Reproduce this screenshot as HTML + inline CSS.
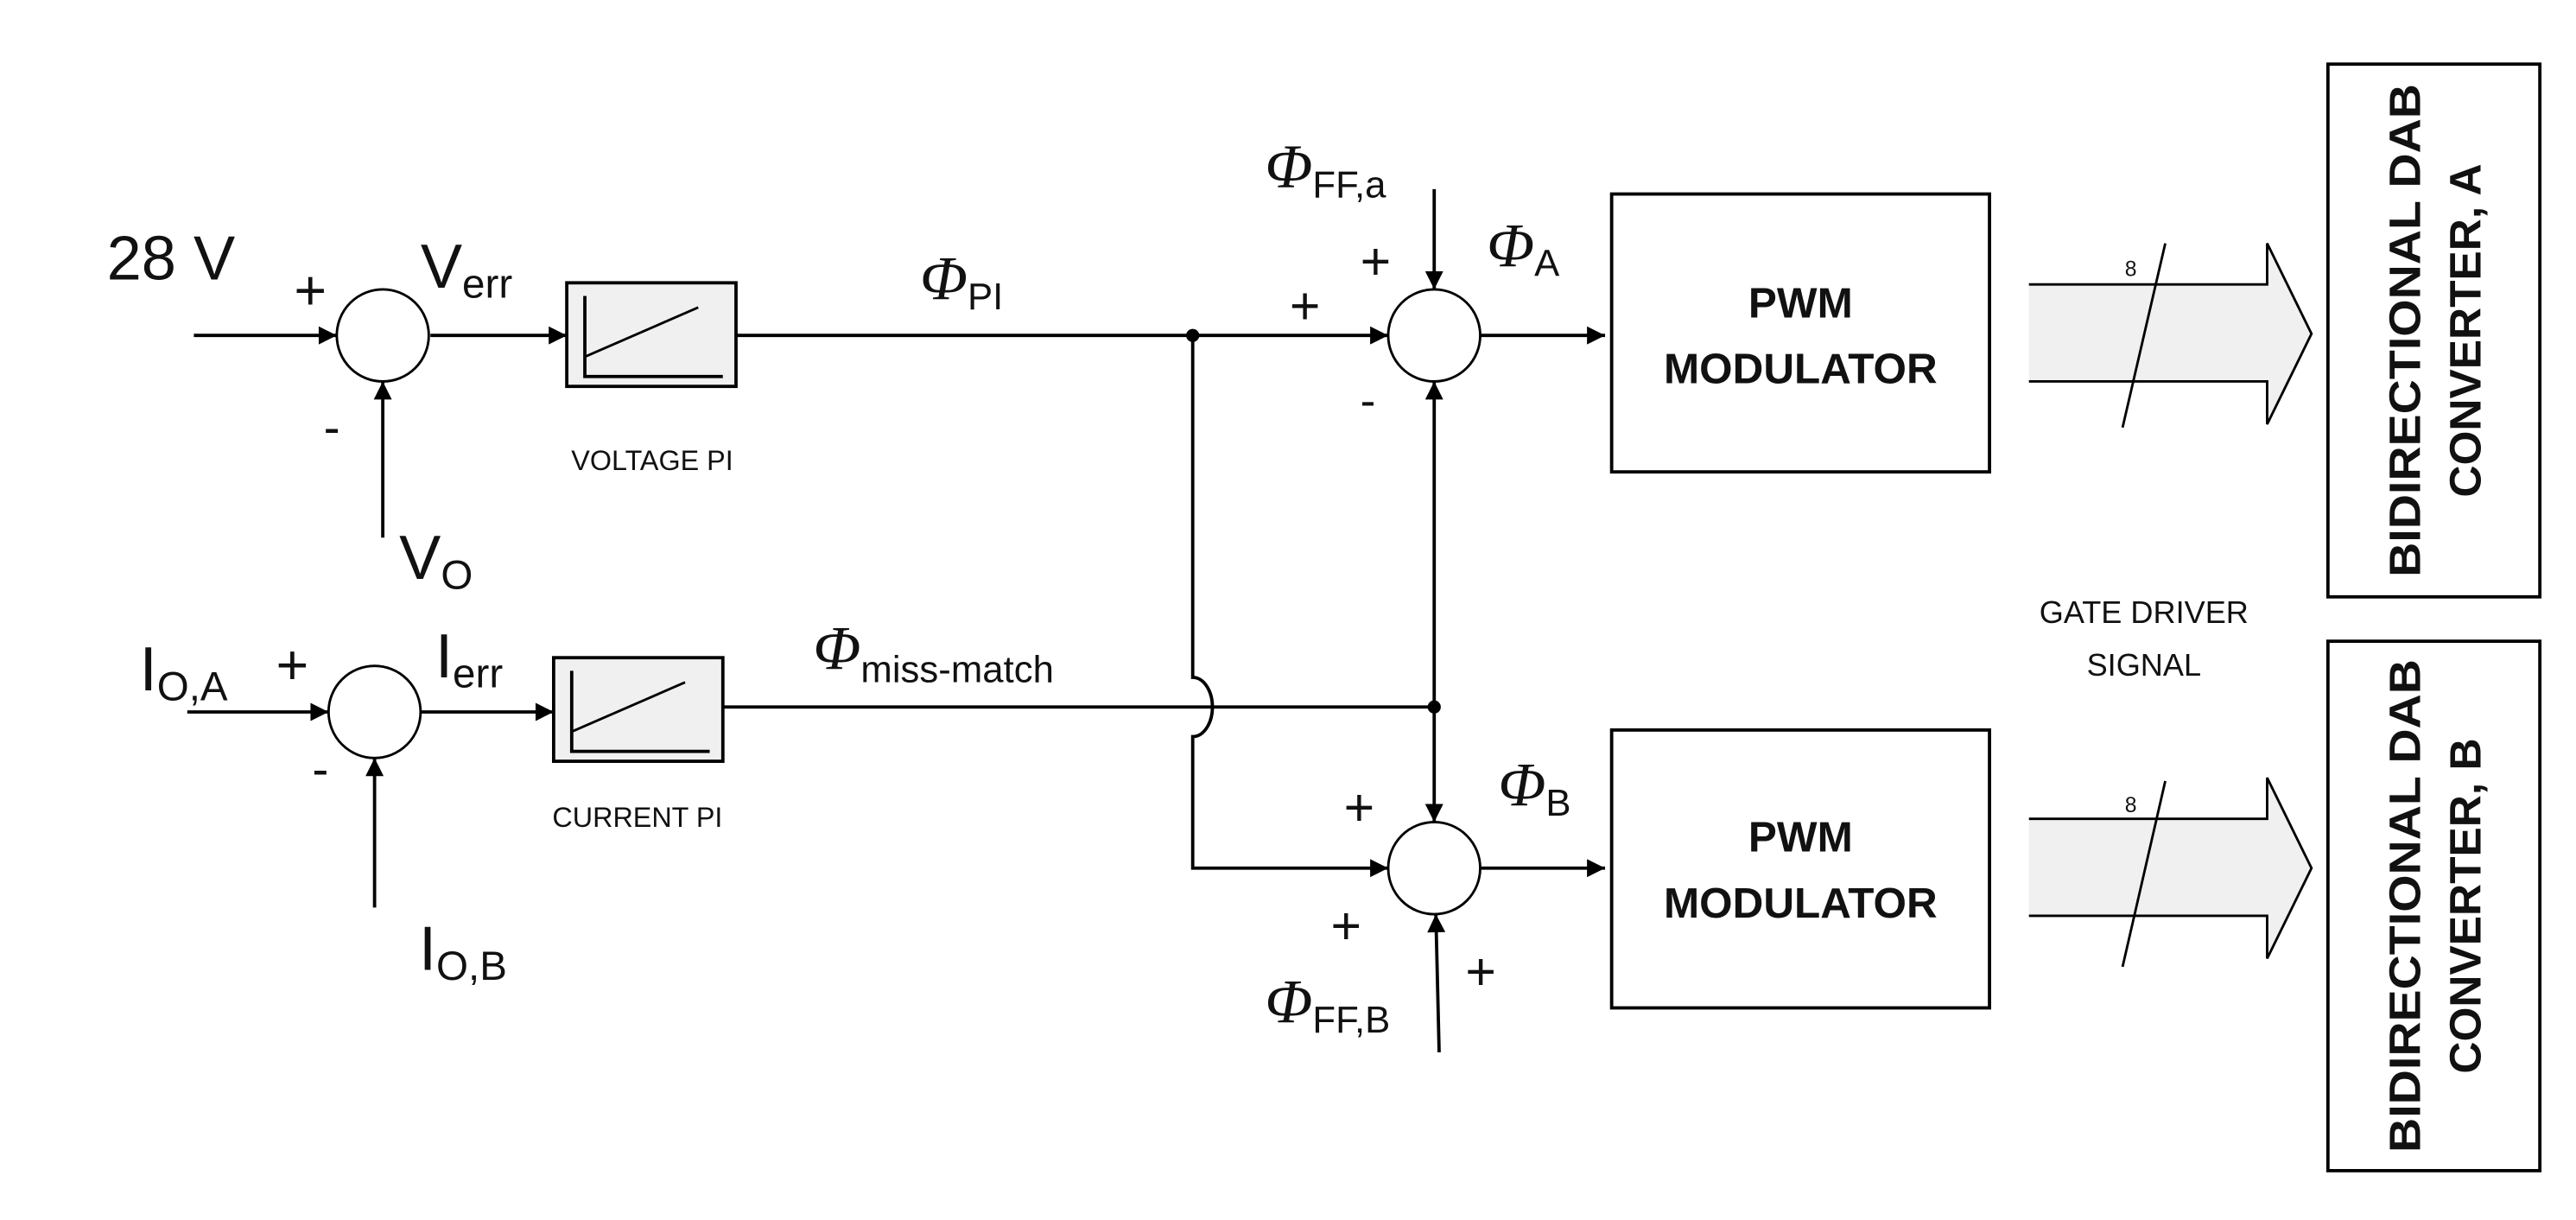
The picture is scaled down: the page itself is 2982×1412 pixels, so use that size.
<!DOCTYPE html>
<html><head><meta charset="utf-8"><style>
html,body{margin:0;padding:0;background:#fff;}
svg{display:block;}
text{font-family:"Liberation Sans",sans-serif;fill:#111;}
.it{font-family:"Liberation Serif",serif;font-style:italic;}
.b{font-weight:bold;}
</style></head><body>
<svg width="2982" height="1412" viewBox="0 0 1568 742" preserveAspectRatio="none" xmlns="http://www.w3.org/2000/svg">
<defs>
<marker id="ar2" viewBox="0 0 10 10" refX="10" refY="5" markerWidth="14" markerHeight="11" markerUnits="userSpaceOnUse" orient="auto">
<path d="M0,0 L10,5 L0,10 z" fill="#000"/></marker>
</defs>
<g stroke="#000" stroke-width="2" fill="none">
<line x1="118" y1="204" x2="205" y2="204" marker-end="url(#ar2)"/>
<circle cx="233" cy="204" r="28" stroke-width="1.5"/>
<line x1="233" y1="327" x2="233" y2="232" marker-end="url(#ar2)"/>
<line x1="262" y1="204" x2="345" y2="204" marker-end="url(#ar2)"/>
<rect x="345" y="172" width="103" height="63" fill="#f0f0f0"/>
<polyline points="356,180 356,229 440,229"/>
<line x1="356" y1="217" x2="425" y2="187" stroke-width="1.5"/>
<line x1="448" y1="204" x2="845" y2="204" marker-end="url(#ar2)"/>
<circle cx="873" cy="204" r="28" stroke-width="1.5"/>
<line x1="873" y1="115" x2="873" y2="176" marker-end="url(#ar2)"/>
<line x1="901" y1="204" x2="977" y2="204" marker-end="url(#ar2)"/>
<rect x="981" y="118" width="230" height="169"/>
<line x1="114" y1="433" x2="200" y2="433" marker-end="url(#ar2)"/>
<circle cx="228" cy="433" r="28" stroke-width="1.5"/>
<line x1="228" y1="552" x2="228" y2="461" marker-end="url(#ar2)"/>
<line x1="256" y1="433" x2="337" y2="433" marker-end="url(#ar2)"/>
<rect x="337" y="400" width="103" height="63" fill="#f0f0f0"/>
<polyline points="348,408 348,457 432,457"/>
<line x1="348" y1="445" x2="417" y2="415" stroke-width="1.5"/>
<line x1="440" y1="430" x2="873" y2="430"/>
<path d="M726,204 L726,412 A12,18 0 0 1 726,448 L726,528 L845,528" marker-end="url(#ar2)"/>
<line x1="873" y1="430" x2="873" y2="232" marker-end="url(#ar2)"/>
<line x1="873" y1="430" x2="873" y2="500" marker-end="url(#ar2)"/>
<circle cx="873" cy="528" r="28" stroke-width="1.5"/>
<line x1="876" y1="640" x2="874" y2="556" marker-end="url(#ar2)"/>
<line x1="901" y1="528" x2="977" y2="528" marker-end="url(#ar2)"/>
<rect x="981" y="444" width="230" height="169"/>
<path d="M1235,173 L1380,173 L1380,148 L1407,203 L1380,258 L1380,232 L1235,232 z" fill="#f0f0f0" stroke="none"/>
<path d="M1235,173 L1380,173 L1380,148 L1407,203 L1380,258 L1380,232 L1235,232" stroke-width="1.5"/>
<line x1="1318" y1="148" x2="1292" y2="260" stroke-width="1.5"/>
<path d="M1235,498 L1380,498 L1380,473 L1407,528 L1380,583 L1380,557 L1235,557 z" fill="#f0f0f0" stroke="none"/>
<path d="M1235,498 L1380,498 L1380,473 L1407,528 L1380,583 L1380,557 L1235,557" stroke-width="1.5"/>
<line x1="1318" y1="475" x2="1292" y2="588" stroke-width="1.5"/>
<rect x="1417" y="39" width="129" height="324"/>
<rect x="1417" y="390" width="129" height="322"/>
</g>
<circle cx="726" cy="204" r="4" fill="#000"/>
<circle cx="873" cy="430" r="4" fill="#000"/>
<text x="65" y="170" font-size="38">28 V</text>
<text x="179" y="188" font-size="34">+</text>
<text x="197" y="270" font-size="30">-</text>
<text x="256" y="175" font-size="38">V<tspan font-size="25" dy="6">err</tspan></text>
<text x="243" y="352" font-size="38">V<tspan font-size="25" dy="6">O</tspan></text>
<text x="397" y="286" font-size="17" text-anchor="middle">VOLTAGE PI</text>
<text x="560" y="182" font-size="38" class="it">Φ<tspan font-style="normal" font-family="Liberation Sans" font-size="23" dy="6">PI</tspan></text>
<text x="785" y="197" font-size="32">+</text>
<text x="828" y="170" font-size="32">+</text>
<text x="828" y="253" font-size="28">-</text>
<text x="770" y="114" font-size="38" class="it">Φ<tspan font-style="normal" font-family="Liberation Sans" font-size="23" dy="6">FF,a</tspan></text>
<text x="905" y="162" font-size="38" class="it">Φ<tspan font-style="normal" font-family="Liberation Sans" font-size="23" dy="6">A</tspan></text>
<text x="1096" y="193" font-size="26" class="b" text-anchor="middle">PWM</text>
<text x="1096" y="233" font-size="26" class="b" text-anchor="middle">MODULATOR</text>
<text x="1096" y="518" font-size="26" class="b" text-anchor="middle">PWM</text>
<text x="1096" y="558" font-size="26" class="b" text-anchor="middle">MODULATOR</text>
<text x="85" y="420" font-size="38">I<tspan font-size="25" dy="6">O,A</tspan></text>
<text x="168" y="416" font-size="34">+</text>
<text x="190" y="478" font-size="30">-</text>
<text x="265" y="412" font-size="38">I<tspan font-size="25" dy="6">err</tspan></text>
<text x="255" y="590" font-size="38">I<tspan font-size="25" dy="6">O,B</tspan></text>
<text x="388" y="503" font-size="17" text-anchor="middle">CURRENT PI</text>
<text x="495" y="407" font-size="38" class="it">Φ<tspan font-style="normal" font-family="Liberation Sans" font-size="23" dy="8">miss-match</tspan></text>
<text x="818" y="502" font-size="32">+</text>
<text x="810" y="574" font-size="32">+</text>
<text x="892" y="602" font-size="32">+</text>
<text x="770" y="622" font-size="38" class="it">Φ<tspan font-style="normal" font-family="Liberation Sans" font-size="23" dy="6">FF,B</tspan></text>
<text x="912" y="490" font-size="38" class="it">Φ<tspan font-style="normal" font-family="Liberation Sans" font-size="23" dy="6">B</tspan></text>
<text x="1297" y="168" font-size="13" text-anchor="middle">8</text>
<text x="1297" y="494" font-size="13" text-anchor="middle">8</text>
<text x="1305" y="379" font-size="19" text-anchor="middle">GATE DRIVER</text>
<text x="1305" y="411" font-size="19" text-anchor="middle">SIGNAL</text>
<g transform="translate(1481,201) rotate(-90)">
<text x="0" y="-8" font-size="27" class="b" text-anchor="middle" textLength="300" lengthAdjust="spacingAndGlyphs">BIDIRECTIONAL DAB</text>
<text x="0" y="29" font-size="27" class="b" text-anchor="middle">CONVERTER, A</text>
</g>
<g transform="translate(1481,551) rotate(-90)">
<text x="0" y="-8" font-size="27" class="b" text-anchor="middle" textLength="300" lengthAdjust="spacingAndGlyphs">BIDIRECTIONAL DAB</text>
<text x="0" y="29" font-size="27" class="b" text-anchor="middle">CONVERTER, B</text>
</g>
</svg>
</body></html>
